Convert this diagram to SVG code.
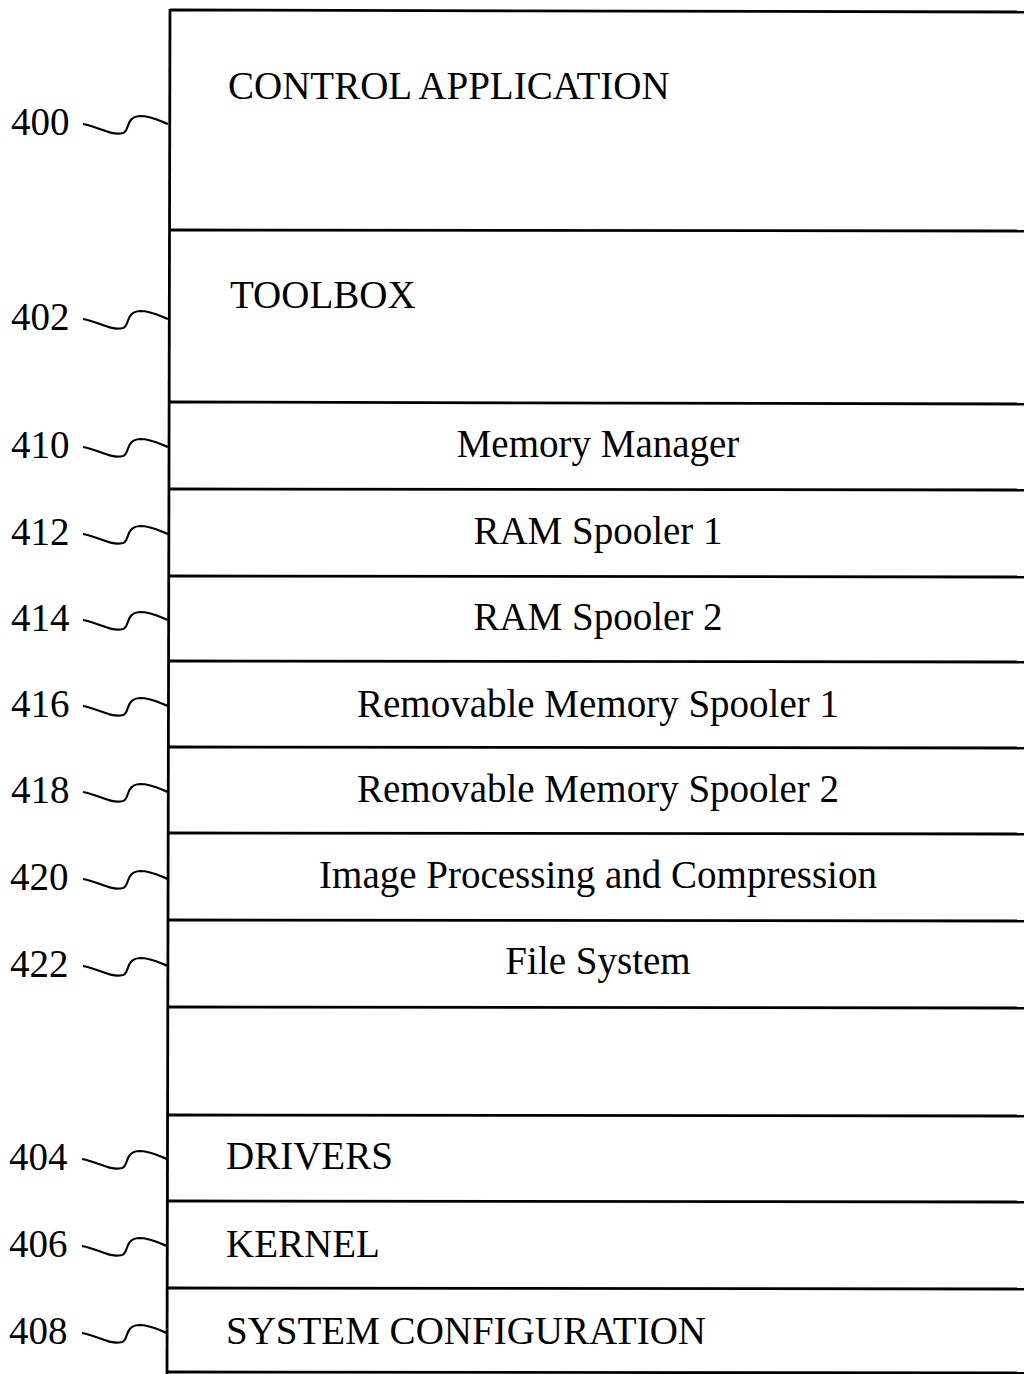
<svg xmlns="http://www.w3.org/2000/svg" width="1024" height="1374" viewBox="0 0 1024 1374">
<defs>
<style>
.t{font-family:"Liberation Serif","Times New Roman",serif;font-size:39px;fill:#000}
.c{text-anchor:middle}
.ln{stroke:#000;stroke-width:2.8;fill:none}
.sq{stroke:#000;stroke-width:2.2;fill:none}
</style>
<path id="sq" d="M0,0 C17,3 27,12 40,9 C47,7 42,-7 57,-8 C69,-8 77,-3 85,0"/>
</defs>
<rect width="1024" height="1374" fill="#fff"/>
<g id="connectors">
<use href="#sq" class="sq" x="83" y="124"/>
<use href="#sq" class="sq" x="83" y="319"/>
<use href="#sq" class="sq" x="83" y="447"/>
<use href="#sq" class="sq" x="83" y="534"/>
<use href="#sq" class="sq" x="83" y="620"/>
<use href="#sq" class="sq" x="83" y="706"/>
<use href="#sq" class="sq" x="83" y="792"/>
<use href="#sq" class="sq" x="83" y="879"/>
<use href="#sq" class="sq" x="83" y="966"/>
<use href="#sq" class="sq" x="82" y="1159"/>
<use href="#sq" class="sq" x="82" y="1246"/>
<use href="#sq" class="sq" x="82" y="1333"/>
</g>
<g id="frame">
<line class="ln" x1="170" y1="9" x2="167" y2="1374"/>
<line class="ln" x1="170" y1="10" x2="1024" y2="12"/>
<line class="ln" x1="170" y1="230" x2="1024" y2="231"/>
<line class="ln" x1="170" y1="402" x2="1024" y2="404"/>
<line class="ln" x1="170" y1="489" x2="1024" y2="490"/>
<line class="ln" x1="170" y1="576" x2="1024" y2="577"/>
<line class="ln" x1="169" y1="661" x2="1024" y2="662"/>
<line class="ln" x1="169" y1="747" x2="1024" y2="748"/>
<line class="ln" x1="169" y1="833" x2="1024" y2="834"/>
<line class="ln" x1="169" y1="920" x2="1024" y2="921"/>
<line class="ln" x1="168" y1="1007" x2="1024" y2="1008"/>
<line class="ln" x1="168" y1="1115" x2="1024" y2="1116"/>
<line class="ln" x1="168" y1="1201" x2="1024" y2="1202"/>
<line class="ln" x1="167" y1="1288" x2="1024" y2="1289"/>
<line class="ln" x1="167" y1="1372" x2="1024" y2="1373"/>
</g>
<g id="n400"><text class="t" x="11" y="135">400</text><text class="t" x="228" y="99">CONTROL APPLICATION</text></g>
<g id="n402"><text class="t" x="11" y="330">402</text><text class="t" x="230" y="308">TOOLBOX</text></g>
<g id="n410"><text class="t" x="11" y="458">410</text><text class="t c" x="598" y="457">Memory Manager</text></g>
<g id="n412"><text class="t" x="11" y="545">412</text><text class="t c" x="598" y="544">RAM Spooler 1</text></g>
<g id="n414"><text class="t" x="11" y="631">414</text><text class="t c" x="598" y="630">RAM Spooler 2</text></g>
<g id="n416"><text class="t" x="11" y="717">416</text><text class="t c" x="598" y="717">Removable Memory Spooler 1</text></g>
<g id="n418"><text class="t" x="11" y="803">418</text><text class="t c" x="598" y="802">Removable Memory Spooler 2</text></g>
<g id="n420"><text class="t" x="10" y="890">420</text><text class="t c" x="598" y="888">Image Processing and Compression</text></g>
<g id="n422"><text class="t" x="10" y="977">422</text><text class="t c" x="598" y="974">File System</text></g>
<g id="n404"><text class="t" x="9" y="1170">404</text><text class="t" x="226" y="1169">DRIVERS</text></g>
<g id="n406"><text class="t" x="9" y="1257">406</text><text class="t" x="226" y="1257">KERNEL</text></g>
<g id="n408"><text class="t" x="9" y="1344">408</text><text class="t" x="226" y="1344">SYSTEM CONFIGURATION</text></g>
</svg>
